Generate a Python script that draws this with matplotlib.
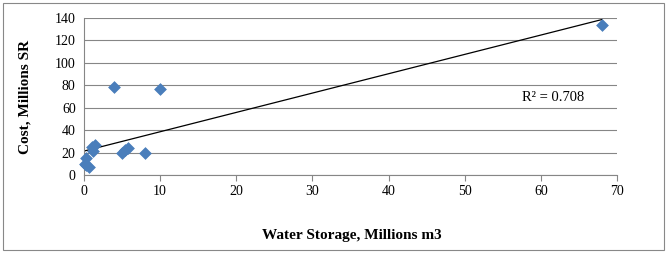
import numpy as np
import matplotlib
matplotlib.use("Agg")
import matplotlib.pyplot as plt
from matplotlib.patches import Rectangle

storage = [68, 4, 10, 8, 5, 5.4, 5.8, 1.5, 1.0, 1.2, 0.3, 0.1, 0.3, 0.7]
cost = [134, 78.5, 76.5, 20, 20, 22.5, 24.5, 27, 25, 21, 15.5, 10, 9, 7]
xticks = [0, 10, 20, 30, 40, 50, 60, 70]
yticks = [0, 20, 40, 60, 80, 100, 120, 140]
r2_label = "R² = 0.708"

plt.rcParams['font.family'] = ['Liberation Serif', 'DejaVu Serif']

fig = plt.figure(figsize=(6.67, 2.54), dpi=100)
fig.patches.append(Rectangle((0.005, 0.015), 0.99, 0.975, transform=fig.transFigure,
                             fill=False, edgecolor='#888888', linewidth=0.8))
ax = fig.add_axes([84/667, 1-175/254, (617-84)/667, (175-18)/254])

ax.set_xlim(0, 70)
ax.set_ylim(0, 140)
ax.set_xticks(xticks)
ax.set_yticks(yticks)
ax.grid(axis='y', color='#868686', linewidth=0.8)
ax.set_axisbelow(True)
for s in ['top', 'right']:
    ax.spines[s].set_visible(False)
for s in ['left', 'bottom']:
    ax.spines[s].set_color('#868686')
    ax.spines[s].set_linewidth(0.8)
ax.tick_params(axis='both', colors='#868686', labelcolor='black', labelsize=10,
               length=4, width=0.8, direction='out')
ax.tick_params(axis='y', length=0, pad=6)

# linear trendline
x = np.array(storage)
y = np.array(cost)
m, b = np.polyfit(x, y, 1)
xs = np.array([0, x.max()])
ax.plot(xs, m*xs + b, color='black', linewidth=0.9, zorder=2)

ax.scatter(storage, cost, marker='D', s=36, color='#4a7ebb', edgecolor='#4a7ebb',
           linewidth=0.5, zorder=3, clip_on=False)

ax.text(57.5, 69, r2_label, fontsize=10.5, va='center', ha='left')

fig.text(352/667, 1-236/254, "Water Storage, Millions m3", fontsize=11,
         fontweight='bold', ha='center', va='center')
fig.text(25/667, 1-97/254, "Cost, Millions SR", fontsize=11, fontweight='bold',
         ha='center', va='center', rotation=90)

fig.savefig("out.png", dpi=100)
